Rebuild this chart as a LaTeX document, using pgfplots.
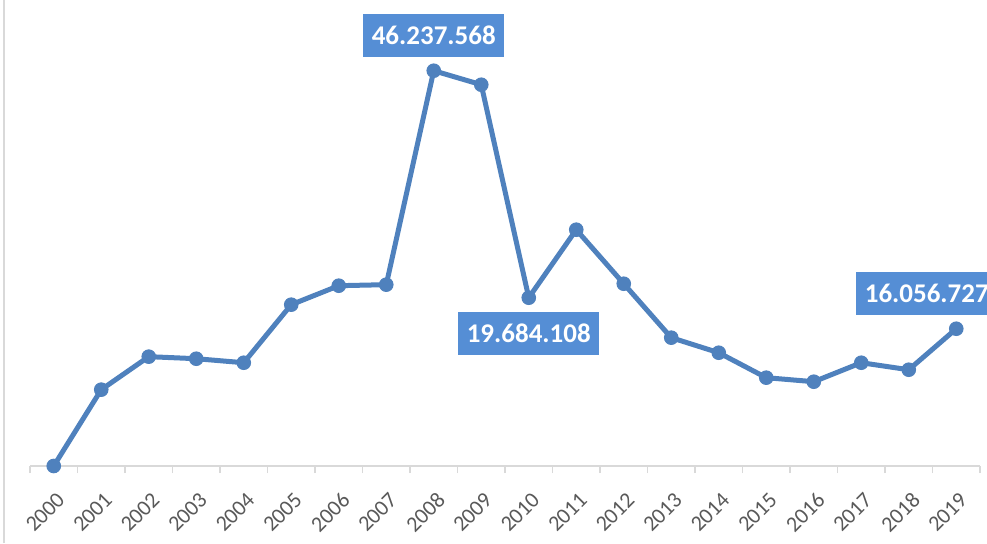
\documentclass[border=0pt]{standalone}
\usepackage{fontspec}
\setmainfont{Carlito}
\usepackage{pgfplots}
\pgfplotsset{compat=1.18}
\definecolor{linec}{RGB}{79,129,189}
\definecolor{boxc}{RGB}{85,142,213}
\definecolor{tickc}{RGB}{89,89,89}
\definecolor{axc}{RGB}{217,217,217}
\newcommand\tickfnt{\fontsize{22}{22}\selectfont}
\begin{document}
\begin{tikzpicture}[x=1pt,y=1pt]
\path[use as bounding box] (0,0) rectangle (987,543);
\draw[axc, line width=1.5pt] (4,0) -- (4,543);
\begin{axis}[
  at={(30pt,77pt)}, anchor=south west,
  scale only axis, width=950pt, height=456pt,
  xmin=-0.5, xmax=19.5, ymin=0, ymax=53340000,
  axis y line=none, axis x line=bottom,
  x axis line style={-, draw=axc, line width=1.5pt},
  xtick={0,...,19},
  xticklabels={2000,2001,2002,2003,2004,2005,2006,2007,2008,2009,2010,2011,2012,2013,2014,2015,2016,2017,2018,2019},
  major tick length=0pt,
  minor xtick={-0.5,0.5,...,19.5},
  minor tick length=7pt,
  tick align=outside,
  minor tick style={draw=axc, line width=1.5pt},
  every x tick label/.append style={xshift=2pt, yshift=-25pt, rotate=45, anchor=north east, inner sep=0pt, text=tickc, font=\tickfnt},
  clip=false,
]
\addplot[color=linec, line width=5pt, mark=*, mark size=6.8pt, mark options={solid, fill=linec, draw=linec, line width=1pt}]
  coordinates {
  (0,0) (1,8930000) (2,12790000) (3,12550000) (4,12080000)
  (5,18870000) (6,21090000) (7,21210000) (8,46237568) (9,44600000)
  (10,19684108) (11,27640000) (12,21320000) (13,15010000) (14,13250000)
  (15,10330000) (16,9860000) (17,12080000) (18,11260000) (19,16056727)
  };
\node[fill=boxc, text=white, font=\fontsize{27}{27}\selectfont\bfseries, inner xsep=8.5pt, inner ysep=12pt, yshift=35pt] at (axis cs:8,46237568) {46.237.568};
\node[fill=boxc, text=white, font=\fontsize{27}{27}\selectfont\bfseries, inner xsep=8.5pt, inner ysep=12pt, yshift=-36pt] at (axis cs:10,19684108) {19.684.108};
\node[fill=boxc, text=white, font=\fontsize{27}{27}\selectfont\bfseries, inner xsep=8.5pt, inner ysep=12pt, yshift=35pt, xshift=-29.5pt] at (axis cs:19,16056727) {16.056.727};
\end{axis}
\end{tikzpicture}
\end{document}
